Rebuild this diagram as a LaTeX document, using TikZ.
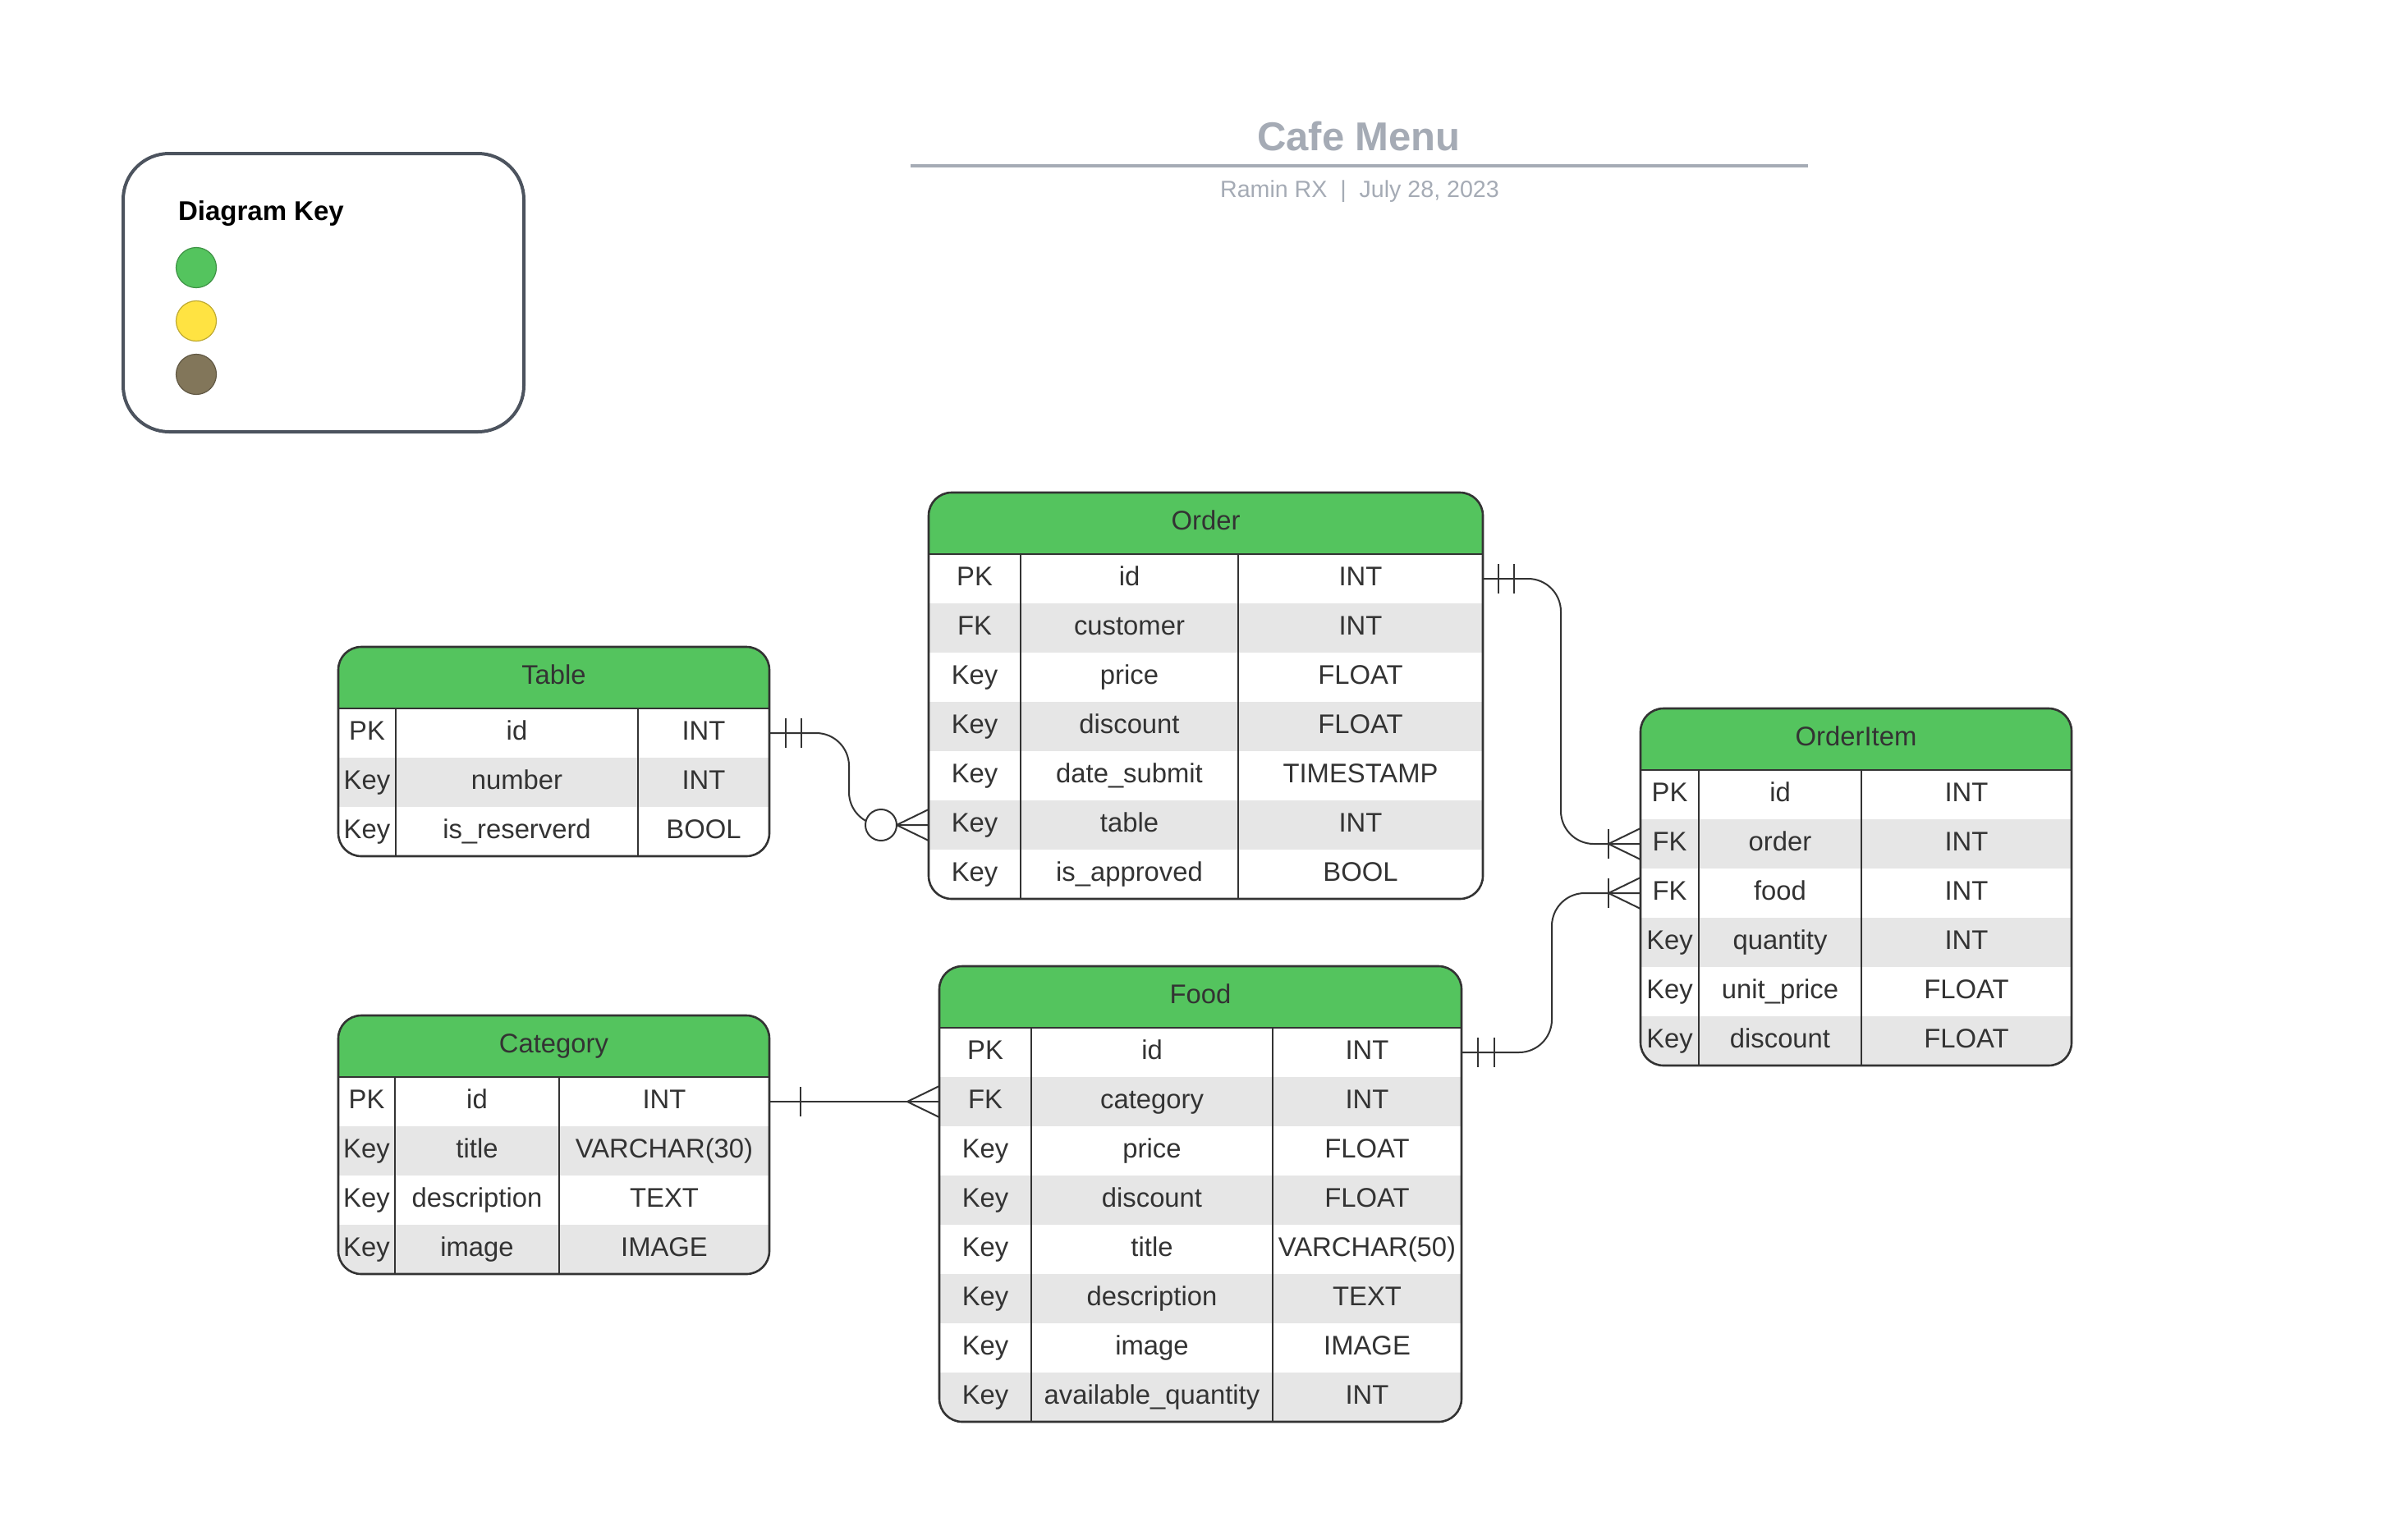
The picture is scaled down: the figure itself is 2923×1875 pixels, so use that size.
\documentclass[tikz,border=0pt]{standalone}
\usepackage{fontspec}
\setmainfont{Liberation Sans}
\usepackage{tikz}
\usetikzlibrary{calc}

\definecolor{hdrgreen}{HTML}{54C45E}
\definecolor{rowgrey}{HTML}{E6E6E6}
\definecolor{inkgrey}{HTML}{333333}
\definecolor{titlegrey}{HTML}{A5ABB5}
\definecolor{keyline}{HTML}{4C535E}
\definecolor{keygreen}{HTML}{54C45E}
\definecolor{keyyellow}{HTML}{FFE342}
\definecolor{keybrown}{HTML}{82765A}

\tikzset{
	rowbox/.style={rectangle, inner sep=0pt, outer sep=0pt, minimum height=30pt},
	celltext/.style={inner sep=0pt, text=inkgrey, text height=11.5pt, text depth=3.5pt, font=\fontsize{16.4}{19}\selectfont},
	tableline/.style={draw=inkgrey, line width=1.3pt},
	relline/.style={draw=inkgrey, line width=1pt},
	zerocirc/.style={circle, draw=inkgrey, line width=1pt, fill=white, inner sep=0pt, minimum size=19pt},
	keydot/.style={circle, inner sep=0pt, minimum size=24.5pt, line width=0.6pt}
}

% #1 name, #2 title, #3 left, #4 col1, #5 col2, #6 right, #7 top, #8 rows, #9 row count
\newcommand{\erentity}[9]{%
	\pgfmathsetmacro{\hbot}{#7+75}
	\pgfmathsetmacro{\tbot}{#7+75+60*#9}
	\pgfmathsetmacro{\rw}{(#6-#3)/2}
	\begin{scope}
		\clip[rounded corners=14] (#3,#7) rectangle (#6,\tbot);
		\fill[hdrgreen] (#3,#7) rectangle (#6,\hbot);
		\foreach \ky/\fl/\tp [count=\i] in {#8}
		{
			\pgfmathparse{mod(\i, 2) ? "white" : "rowgrey"}
			\edef\rowcol{\pgfmathresult}
			\node[rowbox, fill=\rowcol, minimum width=\rw pt] (#1-\i) at ({(#3+#6)/2}, {\hbot+60*\i-30}) {};
			\node[celltext] (#1-\i-key) at ({(#3+#4)/2}, {\hbot+60*\i-30}) {\ky};
			\node[celltext] (#1-\i-field) at ({(#4+#5)/2}, {\hbot+60*\i-30}) {\fl};
			\node[celltext] (#1-\i-type) at ({(#5+#6)/2}, {\hbot+60*\i-30}) {\tp};
		}
	\end{scope}
	\node[celltext] (#1) at ({(#3+#6)/2}, {#7+37.5}) {#2};
	\draw[tableline] (#3,\hbot) -- (#6,\hbot) (#4,\hbot) -- (#4,\tbot) (#5,\hbot) -- (#5,\tbot);
	\draw[tableline, rounded corners=14] (#3,#7) rectangle (#6,\tbot);
}

% crow's foot meeting the left edge of a table
\newcommand{\crowfoot}[1]{%
	\draw[relline] ($(#1)+(-39,0)$) -- ($(#1)+(0,-19)$) ($(#1)+(-39,0)$) -- ($(#1)+(0,19)$);}
% one bar across a connector
\newcommand{\onebar}[2]{%
	\draw[relline] ($(#1)+(#2,-18)$) -- ($(#1)+(#2,18)$);}

\begin{document}
\begin{tikzpicture}[x=0.5pt, y=-0.5pt]
	\fill[white] (0,0) rectangle (2923,1875);
	\useasboundingbox (0,0) rectangle (2923,1875);

	% title block
	\node[anchor=base, text=titlegrey, font=\bfseries\fontsize{24.5}{29}\selectfont] (title) at (1655,183) {Cafe Menu};
	\draw[titlegrey, line width=2pt] (1109,202) -- (2202,202);
	\node[anchor=base, text=titlegrey, font=\fontsize{14.3}{17}\selectfont] (subtitle) at (1656,240) {Ramin RX\ \ |\ \ July 28, 2023};

	% diagram key
	\draw[keyline, line width=2pt, rounded corners=28] (150,187) rectangle (638,526);
	\node[anchor=base west, font=\bfseries\fontsize{16.5}{20}\selectfont] (keytitle) at (210,268) {Diagram Key};
	\foreach \c [count=\i] in {keygreen, keyyellow, keybrown}
		\node[keydot, fill=\c, draw=\c!75!black] (dot-\i) at (239, {326+65*(\i-1)}) {};

	% entities
	\erentity{table}{Table}{412}{482}{777}{937}{788}{PK/id/INT, Key/number/INT, Key/is\_reserverd/BOOL}{3}
	\erentity{category}{Category}{412}{481}{681}{937}{1237}{PK/id/INT, Key/title/VARCHAR(30), Key/description/TEXT, Key/image/IMAGE}{4}
	\erentity{order}{Order}{1131}{1243}{1508}{1806}{600}{PK/id/INT, FK/customer/INT, Key/price/FLOAT, Key/discount/FLOAT, Key/date\_submit/TIMESTAMP, Key/table/INT, Key/is\_approved/BOOL}{7}
	\erentity{food}{Food}{1144}{1256}{1550}{1780}{1177}{PK/id/INT, FK/category/INT, Key/price/FLOAT, Key/discount/FLOAT, Key/title/VARCHAR(50), Key/description/TEXT, Key/image/IMAGE, Key/available\_quantity/INT}{8}
	\erentity{orderitem}{OrderItem}{1998}{2069}{2267}{2523}{863}{PK/id/INT, FK/order/INT, FK/food/INT, Key/quantity/INT, Key/unit\_price/FLOAT, Key/discount/FLOAT}{6}

	% relations
	\draw[relline, rounded corners=20] (table-1.east) -- ++(97,0) |- (order-6.west);
	\onebar{table-1.east}{20}
	\onebar{table-1.east}{39}
	\node[zerocirc] (tablezero) at ($(order-6.west)+(-58,0)$) {};
	\crowfoot{order-6.west}

	\draw[relline, rounded corners=20] (order-1.east) -- ++(95,0) |- (orderitem-2.west);
	\onebar{order-1.east}{19}
	\onebar{order-1.east}{38}
	\onebar{orderitem-2.west}{-39}
	\crowfoot{orderitem-2.west}

	\draw[relline, rounded corners=20] (food-1.east) -- ++(110,0) |- (orderitem-3.west);
	\onebar{food-1.east}{20}
	\onebar{food-1.east}{40}
	\onebar{orderitem-3.west}{-39}
	\crowfoot{orderitem-3.west}

	\draw[relline] (category-1.east) -- (food-2.west);
	\onebar{category-1.east}{38}
	\crowfoot{food-2.west}
\end{tikzpicture}
\end{document}
